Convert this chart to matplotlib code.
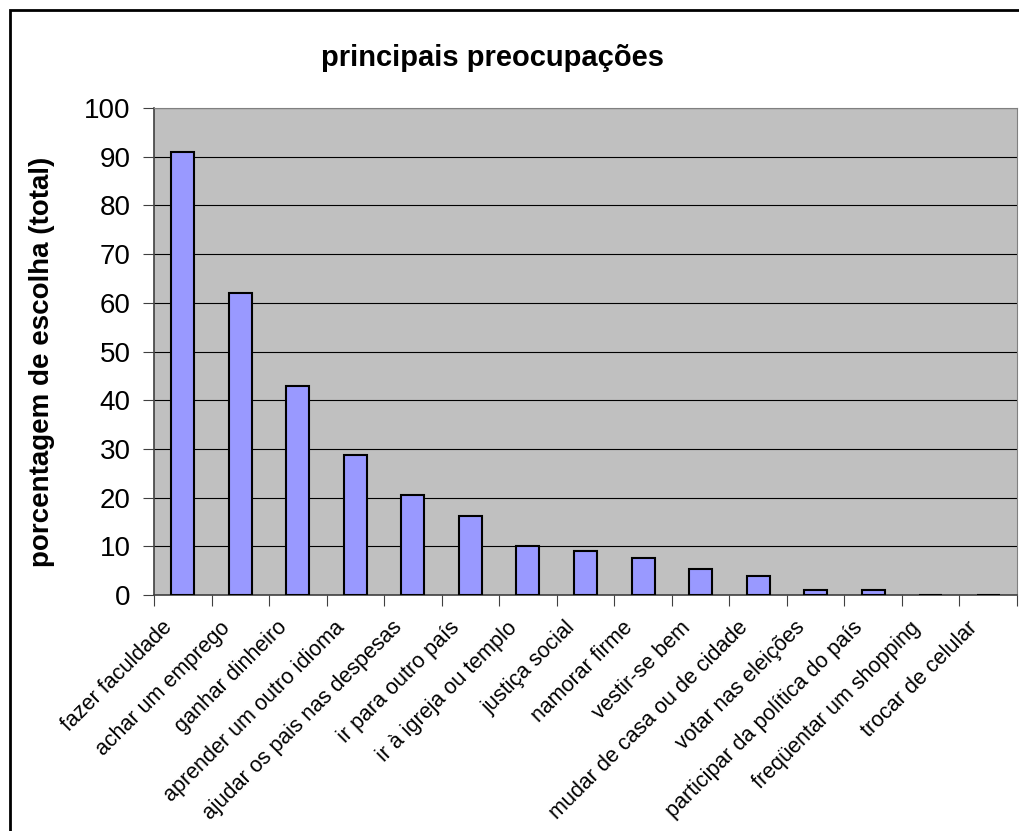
import matplotlib.pyplot as plt
import numpy as np
from matplotlib.patches import Rectangle
from matplotlib.transforms import ScaledTranslation

plt.rcParams['font.family'] = ['Liberation Sans', 'DejaVu Sans']

categories = ['fazer faculdade', 'achar um emprego', 'ganhar dinheiro',
              'aprender um outro idioma', 'ajudar os pais nas despesas',
              'ir para outro país', 'ir à igreja ou templo', 'justiça social',
              'namorar firme', 'vestir-se bem', 'mudar de casa ou de cidade',
              'votar nas eleições', 'participar da política do país',
              'freqüentar um shopping', 'trocar de celular']
values = [91, 62, 43, 28.7, 20.5, 16.2, 10, 9.1, 7.5, 5.4, 3.8, 1, 1, 0, 0]
yticks = [0, 10, 20, 30, 40, 50, 60, 70, 80, 90, 100]

fig = plt.figure(figsize=(10.2, 8.31), dpi=100)
ax = fig.add_axes([0.151, 0.284, 0.846, 0.586])

x = np.arange(len(categories))
ax.set_axisbelow(True)
ax.bar(x, values, width=0.4, color='#9999ff', edgecolor='black', linewidth=1.5, zorder=3)

ax.set_facecolor('#c0c0c0')
ax.set_xlim(-0.5, len(categories) - 0.5)
ax.set_ylim(0, 100)
ax.set_yticks(yticks)
ax.yaxis.grid(True, color='black', linewidth=0.8)
ax.tick_params(axis='y', labelsize=20, length=8, pad=9, direction='out', color='#404040')

ax.set_xticks(np.arange(len(categories) + 1) - 0.5, minor=False)
ax.set_xticklabels([])
ax.set_xticks(x, minor=True)
ax.set_xticklabels(categories, minor=True, rotation=45, ha='right',
                   rotation_mode='anchor', fontsize=15.5)
ax.tick_params(axis='x', which='major', length=8, direction='out', color='#404040')
ax.tick_params(axis='x', which='minor', length=0, pad=16)
# labels sit a bit left of the category centre, like the original
shift = ScaledTranslation(-21 / 100, 0, fig.dpi_scale_trans)
for lbl in ax.get_xticklabels(minor=True):
    lbl.set_transform(lbl.get_transform() + shift)

for side in ['top', 'right']:
    ax.spines[side].set_color('#808080')
for side in ['left', 'bottom']:
    ax.spines[side].set_color('#404040')
    ax.spines[side].set_linewidth(1.2)

ax.set_ylabel('porcentagem de escolha (total)', fontsize=20, fontweight='bold')
ax.yaxis.set_label_coords(-0.115, 0.478)
fig.text(0.483, 0.93, 'principais preocupações', ha='center', va='center',
         fontsize=21, fontweight='bold')

fig.patches.append(Rectangle((10 / 1020, -0.1), 1.2, 0.1 + (831 - 10) / 831,
                             transform=fig.transFigure, fill=False,
                             edgecolor='black', linewidth=2))

fig.savefig('out.png', dpi=100)
